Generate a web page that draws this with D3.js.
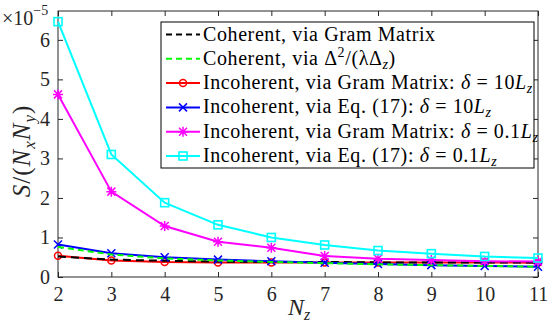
<!DOCTYPE html>
<html><head><meta charset="utf-8">
<script src="https://cdn.jsdelivr.net/npm/d3@7"></script>
<style>body{margin:0;background:#fff}svg{display:block}</style>
</head><body><svg id="c" width="550" height="323"></svg>
<script>
const nz = [2,3,4,5,6,7,8,9,10,11];
const cohGram   = [0.52,0.44,0.41,0.39,0.38,0.38,0.37,0.37,0.37,0.37];
const cohFormula= [0.76,0.57,0.47,0.42,0.38,0.35,0.32,0.30,0.28,0.26];
const incGram10 = [0.54,0.42,0.38,0.37,0.37,0.37,0.37,0.37,0.37,0.36];
const incEq10   = [0.82,0.60,0.50,0.44,0.40,0.36,0.33,0.30,0.28,0.26];
const incGram01 = [4.62,2.16,1.29,0.89,0.74,0.53,0.46,0.43,0.40,0.39];
const incEq01   = [6.46,3.10,1.88,1.32,1.00,0.81,0.67,0.59,0.52,0.48];
const yTicks = [0,1,2,3,4,5,6];
const xTicks = [2,3,4,5,6,7,8,9,10,11];

const series = [
  {key:"incGram10", v:incGram10, color:"#ff0000", dash:null, marker:"circle", leg:2},
  {key:"cohGram", v:cohGram, color:"#000000", dash:"8,5", marker:null, leg:0},
  {key:"incEq10", v:incEq10, color:"#0000ff", dash:null, marker:"x", leg:3},
  {key:"cohFormula", v:cohFormula, color:"#00ff00", dash:"6,4", marker:null, leg:1},
  {key:"incGram01", v:incGram01, color:"#ff00ff", dash:null, marker:"star", leg:4},
  {key:"incEq01", v:incEq01, color:"#00ffff", dash:null, marker:"square", leg:5}
];

const svg = d3.select("#c");
const L=58,R=538,T=11,B=277;
const x = d3.scaleLinear().domain([2,11]).range([L,R]);
const y = d3.scaleLinear().domain([0,6.73]).range([B,T]);
const axisCol="#262626";
const serif="Liberation Serif";

const gx = svg.append("g").attr("transform",`translate(0,${B})`)
  .call(d3.axisBottom(x).tickValues(xTicks).tickSize(-5).tickPadding(10).tickFormat(d3.format("d")));
const gxt = svg.append("g").attr("transform",`translate(0,${T})`)
  .call(d3.axisTop(x).tickValues(xTicks).tickSize(-5).tickFormat(""));
const gy = svg.append("g").attr("transform",`translate(${L},0)`)
  .call(d3.axisLeft(y).tickValues(yTicks).tickSize(-5).tickPadding(8).tickFormat(d3.format("d")));
const gyr = svg.append("g").attr("transform",`translate(${R},0)`)
  .call(d3.axisRight(y).tickValues(yTicks).tickSize(-5).tickFormat(""));
[gx,gxt,gy,gyr].forEach(g=>{
  g.attr("font-family",serif).attr("font-size",20);
  g.select(".domain").remove();
  g.selectAll("line").attr("stroke",axisCol).attr("stroke-width",1);
  g.selectAll("text").attr("fill",axisCol);
});
svg.append("rect").attr("x",L).attr("y",T).attr("width",R-L).attr("height",B-T)
  .attr("fill","none").attr("stroke",axisCol).attr("stroke-width",1);

function marker(g, type, cx, cy, color){
  const s=4;
  if(type==="circle") g.append("circle").attr("cx",cx).attr("cy",cy).attr("r",3.5).attr("fill","none").attr("stroke",color).attr("stroke-width",1.5);
  else if(type==="square") g.append("rect").attr("x",cx-4).attr("y",cy-4).attr("width",8).attr("height",8).attr("fill","none").attr("stroke",color).attr("stroke-width",1.6);
  else if(type==="x"){
    g.append("path").attr("d",`M${cx-s},${cy-s}L${cx+s},${cy+s}M${cx-s},${cy+s}L${cx+s},${cy-s}`).attr("stroke",color).attr("stroke-width",1.5);
  } else if(type==="star"){
    g.append("path").attr("d",`M${cx-s},${cy-s}L${cx+s},${cy+s}M${cx-s},${cy+s}L${cx+s},${cy-s}M${cx-s-1},${cy}L${cx+s+1},${cy}M${cx},${cy-s-1}L${cx},${cy+s+1}`).attr("stroke",color).attr("stroke-width",1.5);
  }
}

const line = d3.line().x((d,i)=>x(nz[i])).y(d=>y(d));
const plot = svg.append("g");
series.forEach(s=>{
  plot.append("path").attr("d",line(s.v)).attr("fill","none").attr("stroke",s.color)
    .attr("stroke-width",2).attr("stroke-dasharray",s.dash);
  if(s.marker) s.v.forEach((d,i)=>marker(plot,s.marker,x(nz[i]),y(d),s.color));
});

const ex = svg.append("text").attr("x",2).attr("y",25).attr("font-family",serif).attr("font-size",20).attr("fill",axisCol);
ex.append("tspan").text("×10");
ex.append("tspan").attr("dy",-10).attr("font-size",14).text("−5");

const xl = svg.append("text").attr("x",299).attr("y",315).attr("text-anchor","middle").attr("font-family",serif).attr("font-size",24).attr("fill",axisCol);
xl.append("tspan").attr("font-style","italic").text("N");
xl.append("tspan").attr("dy",5).attr("font-style","italic").attr("font-size",16).text("z");

const yl = svg.append("text").attr("transform","translate(30,151) rotate(-90)").attr("text-anchor","middle").attr("font-family",serif).attr("font-size",25).attr("letter-spacing",1).attr("fill",axisCol);
yl.append("tspan").attr("font-style","italic").text("S");
yl.append("tspan").text("/(");
yl.append("tspan").attr("font-style","italic").text("N");
yl.append("tspan").attr("dy",5).attr("font-style","italic").attr("font-size",17).text("x");
yl.append("tspan").attr("dy",-5).attr("font-style","italic").text("N");
yl.append("tspan").attr("dy",5).attr("font-style","italic").attr("font-size",17).text("y");
yl.append("tspan").attr("dy",-5).text(")");

const leg = svg.append("g");
leg.append("rect").attr("x",161).attr("y",22).attr("width",373).attr("height",146).attr("fill","#fff").attr("stroke","#000").attr("stroke-width",1);
const rowY = i=>34.5+i*24.3;
const legText = [
  [["Coherent, via Gram Matrix"]],
  [["Coherent, via Δ"],["2","sup"],["/(λΔ"],["z","sub"],[")"]],
  [["Incoherent, via Gram Matrix: "],["δ","it"],[" = 10"],["L","it"],["z","sub"]],
  [["Incoherent, via Eq. (17): "],["δ","it"],[" = 10"],["L","it"],["z","sub"]],
  [["Incoherent, via Gram Matrix: "],["δ","it"],[" = 0.1"],["L","it"],["z","sub"]],
  [["Incoherent, via Eq. (17): "],["δ","it"],[" = 0.1"],["L","it"],["z","sub"]]
];
series.forEach(s=>{
  const yy=rowY(s.leg);
  leg.append("line").attr("x1",166).attr("x2",200).attr("y1",yy).attr("y2",yy).attr("stroke",s.color).attr("stroke-width",2).attr("stroke-dasharray",s.dash?"6,4":null);
  if(s.marker) marker(leg,s.marker,183,yy,s.color);
});
legText.forEach((parts,i)=>{
  const t = leg.append("text").attr("x",203).attr("y",rowY(i)+6).attr("font-family",serif).attr("font-size",20).attr("letter-spacing",0.6).attr("fill","#000");
  let shift=0;
  parts.forEach(p=>{
    const ts=t.append("tspan").text(p[0]);
    if(p[1]==="it") ts.attr("font-style","italic");
    if(p[1]==="sup"){ ts.attr("dy",-8).attr("font-size",14); shift=-8; }
    else if(p[1]==="sub"){ ts.attr("dy",4).attr("font-size",14).attr("font-style","italic"); shift=4; }
    else if(shift!==0){ ts.attr("dy",-shift); shift=0; }
  });
});
</script></body></html>
